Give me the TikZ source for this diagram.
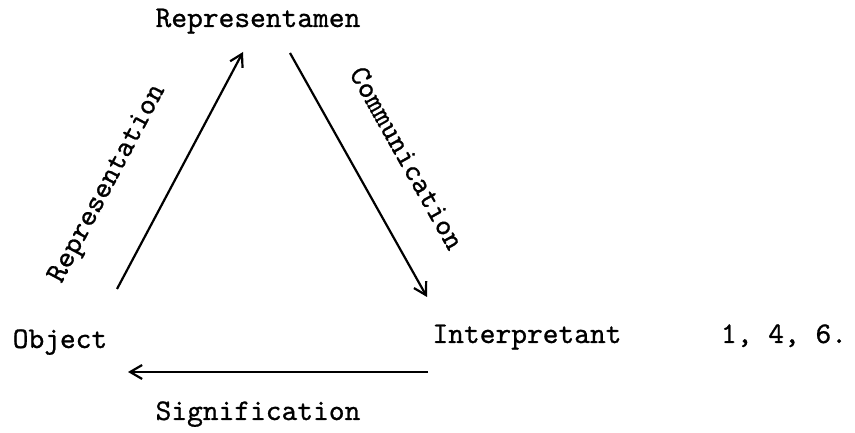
\documentclass[tikz,border=0pt]{standalone}
\usepackage{fontspec}
\usetikzlibrary{arrows.meta, calc}

% typewriter face: Latin Modern Mono, a little darker
\newfontfamily\typewriter{lmmono10-regular}[Extension=.otf, FakeBold=0.8]

\begin{document}
\begin{tikzpicture}[
        x=1pt, y=1pt,
        lbl/.style={
            font=\typewriter\fontsize{30}{34}\selectfont,
            inner sep=0pt
        },
        arrow/.style={
            -{Straight Barb[length=12pt, width=14pt]},
            line width=2.2pt
        }
    ]
    \useasboundingbox (0,0) rectangle (855,433);

    % Corners of the triangle
    \node[lbl, anchor=base] (rep) at (258,406) {Representamen};
    \node[lbl, anchor=base] (obj) at (60,85) {Object};
    \node[lbl, anchor=base] (int) at (527,90) {Interpretant};
    \node[lbl, anchor=base] (refs) at (784,90) {1, 4, 6.};

    % Arrows between the corners
    \draw[arrow] ($(obj.base)+(57,59)$) -- ($(rep.base)+(-15,-25)$);
    \draw[arrow] ($(rep.base)+(32,-26)$) -- ($(int.base)+(-100,46)$);
    \draw[arrow] ($(int.base)+(-99,-29)$) -- ($(obj.base)+(68,-24)$);

    % Arrow labels
    \node[lbl, rotate=62] (repr) at (108,249) {Representation};
    \node[lbl, rotate=-60.7] (comm) at (407,275) {Communication};
    \node[lbl, anchor=base] (sig) at (258,13) {Signification};

\end{tikzpicture}
\end{document}
